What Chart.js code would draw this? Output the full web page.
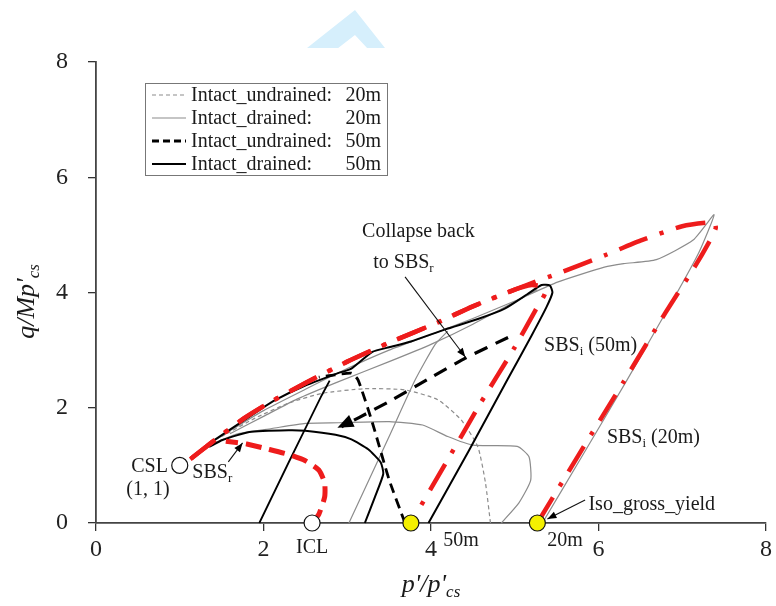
<!DOCTYPE html>
<html><head><meta charset="utf-8">
<script src="https://cdn.jsdelivr.net/npm/chart.js@4/dist/chart.umd.min.js"></script>
<style>
html,body{margin:0;padding:0;background:#fff;}
#wrap{position:relative;width:776px;height:606px;}
#mark{position:absolute;left:307px;top:10px;width:78px;height:38px;background:#d6effc;
 clip-path:polygon(61.5% 0%,100% 100%,77% 100%,61.5% 66%,40% 100%,0% 100%);}
canvas{position:absolute;left:0;top:0;}
</style></head>
<body><div id="wrap"><div id="mark"></div><canvas id="c" width="776" height="606"></canvas></div>
<script>
// ---------- data (p'/p'cs , q/Mp'cs) ----------
const xTicks = [0, 2, 4, 6, 8];
const yTicks = [0, 2, 4, 6, 8];

// upper branch shared by the two SBS_i surfaces (right to left)
const sbsTop = [[7.38,5.22],[7.0,5.15],[6.5,4.9],[6.1,4.66],[5.5,4.32],[5.27,4.2],[5.0,4.05],[4.5,3.76],[4.08,3.48],[3.5,3.13],[3.0,2.8],[2.5,2.43],[2.06,2.08],[1.77,1.82],[1.5,1.53],[1.25,1.25],[1.06,1.03]];
const sbsI20Rise = [[5.27,0],[5.8,1.27],[6.3,2.45],[6.8,3.65],[7.15,4.45],[7.33,4.9],[7.4,5.12]];
const sbsI50Rise = [[3.76,0],[4.2,1.1],[4.6,2.1],[5.0,3.05],[5.25,3.7],[5.36,3.98],[5.33,4.1],[5.2,4.13]];
const sbsR = [[2.58,0],[2.66,0.15],[2.73,0.45],[2.73,0.7],[2.66,0.92],[2.5,1.08],[2.3,1.19],[2.06,1.28],[1.8,1.37],[1.55,1.42]];

// Intact_drained 50m (black solid)
const drained50a = [[1.95,0],[2.3,1.05],[2.69,2.2],[2.79,2.47]];
const drained50b = [[3.21,0],[3.33,0.45],[3.43,0.85],[3.4,1.05],[3.25,1.28],[3.05,1.45],[2.86,1.53],[2.5,1.6],[2.3,1.61],[1.83,1.58],[1.51,1.44],[1.35,1.32]];
const drained50c = [[3.97,0],[4.45,1.25],[4.91,2.48],[5.2,3.25],[5.38,3.75],[5.45,4.0],[5.42,4.12],[5.32,4.13],[5.15,3.97],[4.88,3.72],[4.56,3.54],[4.17,3.36],[3.76,3.15],[3.5,3.05],[3.3,2.97],[3.05,2.68],[2.89,2.6],[2.46,2.36],[2.15,2.14],[1.95,1.96],[1.6,1.62],[1.35,1.38]];
// Intact_undrained 50m (black dashed)
const undrained50a = [[3.69,0],[3.5,0.75],[3.3,1.74],[3.13,2.48],[3.05,2.6],[2.85,2.57],[2.66,2.53]];
const collapse50 = [[4.92,3.22],[4.41,2.86],[3.97,2.5],[3.49,2.1],[3.14,1.83],[2.93,1.67]];
// Intact_drained 20m (grey solid)
const drained20a = [[3.02,0],[3.5,1.5],[3.81,2.48],[4.05,3.1],[4.2,3.33]];
const drained20b = [[4.84,0],[5.05,0.35],[5.19,0.74],[5.17,1.15],[5.03,1.33],[4.5,1.35],[4.2,1.5],[3.9,1.7],[3.5,1.76],[2.9,1.74],[2.5,1.73],[2.1,1.64],[1.7,1.55],[1.4,1.38]];
const drained20c = [[5.33,0],[5.8,1.15],[6.34,2.48],[6.9,3.9],[7.2,4.7],[7.38,5.35],[7.13,4.91],[6.69,4.57],[6.3,4.5],[6.07,4.44],[5.51,4.18],[5.03,3.87],[4.5,3.55],[4.0,3.27],[3.5,3.0],[3.0,2.68],[2.5,2.32],[2.0,1.95],[1.6,1.6],[1.3,1.32]];
const drained20d = [[5.27,4.05],[4.5,3.45],[4.0,3.1],[3.5,2.8],[2.89,2.45],[2.4,2.15],[2.0,1.85],[1.6,1.55]];
// Intact_undrained 20m (grey dashed)
const undrained20 = [[4.71,0],[4.65,0.7],[4.56,1.32],[4.36,1.79],[4.08,2.14],[3.69,2.31],[3.2,2.33],[2.7,2.25],[2.3,2.08],[1.9,1.82],[1.5,1.5]];

// markers
const cslPoint = [[1,1]];
const iclPoint = [[2.58,0]];
const yieldPoints = [[3.76,0],[5.27,0]];

const legendNames = ['Intact_undrained:', 'Intact_drained:', 'Intact_undrained:', 'Intact_drained:'];
const legendDepths = ['20m', '20m', '50m', '50m'];

const FONT = "'Liberation Serif','Times New Roman',serif";
const RED = '#ee1c1c';

const toXY = a => a.map(p => ({x:p[0], y:p[1]}));
const sbsI20 = sbsI20Rise.concat(sbsTop);
const sbsI50 = sbsI50Rise.concat(sbsTop.filter(p => p[0] < 5.1));

function line(data, color, width, dash, order, legend, offset) {
  return {data: toXY(data), showLine:true, borderColor:color, backgroundColor:color,
    borderWidth:width, borderDash:dash, borderDashOffset:offset || 0, pointRadius:0, pointHoverRadius:0,
    order:order, clip:false, legendIdx:legend, tension:0.18, borderCapStyle:'butt'};
}
function marker(data, fill, r) {
  return {data: toXY(data), showLine:false, pointRadius:r, pointHoverRadius:r,
    pointBackgroundColor:fill, pointBorderColor:'#111', pointBorderWidth:1.2, order:0, clip:false};
}

const GREY = '#8c8c8c';
const datasets = [
  line(undrained20, GREY, 1.2, [4,3], 6, 0),
  line(drained20a, GREY, 1.2, [], 6, 1),
  line(drained20b, GREY, 1.2, [], 6),
  line(drained20c, GREY, 1.2, [], 6),
  line(drained20d, GREY, 1.2, [], 6),
  line(undrained50a, '#000', 2.8, [10,6], 4, 2),
  line(collapse50, '#000', 3.2, [14,9], 4),
  line(drained50a, '#000', 1.8, [], 4, 3),
  line(drained50b, '#000', 2, [], 4),
  line(drained50c, '#000', 2, [], 4),
  line(sbsI20, RED, 4.5, [30,13,4,13], 2),
  line(sbsI50, RED, 4.5, [30,13,4,13], 2, undefined, 22),
  line(sbsR, RED, 5, [16,8], 2),
  marker(cslPoint, '#fff', 8),
  marker(iclPoint, '#fff', 8),
  marker(yieldPoints, '#f4f000', 8)
];
const COLLAPSE_IDX = 6;

function drawRich(ctx, parts, x, y, align, size, italic) {
  const st = italic ? 'italic ' : '';
  let w = 0;
  const seg = parts.map(p => {
    const s = p.sub ? Math.round(size*0.65) : size;
    ctx.font = st + s + 'px ' + FONT;
    const ww = ctx.measureText(p.t).width;
    w += ww;
    return {t:p.t, s:s, w:ww, sub:p.sub};
  });
  let cx = align === 'center' ? x - w/2 : (align === 'right' ? x - w : x);
  ctx.textBaseline = 'middle';
  ctx.textAlign = 'left';
  seg.forEach(s => {
    ctx.font = st + s.s + 'px ' + FONT;
    ctx.fillText(s.t, cx, s.sub ? y + size*0.28 : y);
    cx += s.w;
  });
}
function head(ctx, x0, y0, x1, y1, len, half) {
  const a = Math.atan2(y1-y0, x1-x0);
  ctx.beginPath();
  ctx.moveTo(x1, y1);
  ctx.lineTo(x1 - len*Math.cos(a) + half*Math.sin(a), y1 - len*Math.sin(a) - half*Math.cos(a));
  ctx.lineTo(x1 - len*Math.cos(a) - half*Math.sin(a), y1 - len*Math.sin(a) + half*Math.cos(a));
  ctx.closePath(); ctx.fill();
}

const notes = [
  {parts:[{t:'CSL'}], at:[0.64,0.97], align:'center'},
  {parts:[{t:'(1, 1)'}], at:[0.62,0.57], align:'center'},
  {parts:[{t:'SBS'},{t:'r',sub:true}], at:[1.15,0.87], align:'left'},
  {parts:[{t:'ICL'}], at:[2.58,-0.43], align:'center'},
  {parts:[{t:'50m'}], at:[4.36,-0.3], align:'center'},
  {parts:[{t:'20m'}], at:[5.6,-0.3], align:'center'},
  {parts:[{t:'Iso_gross_yield'}], at:[5.88,0.31], align:'left'},
  {parts:[{t:'SBS'},{t:'i',sub:true},{t:' (50m)'}], at:[5.35,3.07], align:'left'},
  {parts:[{t:'SBS'},{t:'i',sub:true},{t:' (20m)'}], at:[6.1,1.48], align:'left'},
  {parts:[{t:'Collapse back'}], at:[3.85,5.05], align:'center'},
  {parts:[{t:'to SBS'},{t:'r',sub:true}], at:[3.31,4.52], align:'left'}
];
const pointers = [
  {from:[3.69,4.27], to:[4.41,2.88]},
  {from:[1.58,1.06], to:[1.75,1.39]},
  {from:[5.84,0.40], to:[5.39,0.07]}
];

const overlay = {
  id:'overlay',
  afterDatasetsDraw(chart) {
    const ctx = chart.ctx, xs = chart.scales.x, ys = chart.scales.y;
    const P = p => [xs.getPixelForValue(p[0]), ys.getPixelForValue(p[1])];
    ctx.save();
    const pts = chart.getDatasetMeta(COLLAPSE_IDX).data;
    const a = pts[pts.length-2], b = pts[pts.length-1];
    ctx.fillStyle = '#000';
    head(ctx, a.x, a.y, b.x - 4, b.y + 1, 16, 6.5);
    ctx.strokeStyle = '#111'; ctx.lineWidth = 1.1;
    pointers.forEach(pt => {
      const f = P(pt.from), t = P(pt.to);
      ctx.beginPath(); ctx.moveTo(f[0], f[1]); ctx.lineTo(t[0], t[1]); ctx.stroke();
      head(ctx, f[0], f[1], t[0], t[1], 9, 3.5);
    });
    ctx.fillStyle = '#1a1a1a';
    notes.forEach(n => { const p = P(n.at); drawRich(ctx, n.parts, p[0], p[1], n.align, 20, false); });
    const ca = chart.chartArea;
    drawRich(ctx, [{t:"p'/p'"},{t:'cs',sub:true}], (ca.left+ca.right)/2, 585, 'center', 26, true);
    ctx.translate(27, (ca.top+ca.bottom)/2 + 9);
    ctx.rotate(-Math.PI/2);
    drawRich(ctx, [{t:"q/Mp'"},{t:'cs',sub:true}], 0, 0, 'center', 26, true);
    ctx.restore();

    ctx.save();
    ctx.strokeStyle = '#777'; ctx.lineWidth = 1;
    ctx.strokeRect(145.5, 83.5, 242, 92);
    const legendSets = chart.data.datasets.filter(d => d.legendIdx !== undefined)
      .sort((m, n) => m.legendIdx - n.legendIdx);
    legendSets.forEach((d, i) => {
      const y = 95 + i*23;
      ctx.save();
      ctx.strokeStyle = d.borderColor; ctx.lineWidth = d.borderWidth;
      ctx.setLineDash(d.legendIdx === 2 ? [7,4] : d.borderDash);
      ctx.beginPath(); ctx.moveTo(152, y); ctx.lineTo(186, y); ctx.stroke();
      ctx.restore();
      ctx.fillStyle = '#1a1a1a';
      ctx.font = '20px ' + FONT;
      ctx.textBaseline = 'middle';
      ctx.textAlign = 'left';
      ctx.fillText(legendNames[d.legendIdx], 191, y + 1);
      ctx.textAlign = 'right';
      ctx.fillText(legendDepths[d.legendIdx], 381, y + 1);
    });
    ctx.restore();
  }
};

new Chart(document.getElementById('c'), {
  type:'scatter',
  data:{datasets:datasets},
  options:{
    responsive:false, animation:false,
    layout:{padding:{top:62, right:7, left:0, bottom:0}},
    plugins:{legend:{display:false}, tooltip:{enabled:false}},
    scales:{
      x:{type:'linear', min:0, max:8,
        afterBuildTicks: s => { s.ticks = xTicks.map(v => ({value:v})); },
        afterFit: s => { s.height = 83; },
        ticks:{font:{family:FONT, size:24}, color:'#222', padding:4},
        grid:{drawOnChartArea:false, drawTicks:true, tickLength:8, color:'#333', lineWidth:1.3},
        border:{color:'#444', width:1.8}},
      y:{type:'linear', min:0, max:8,
        afterBuildTicks: s => { s.ticks = yTicks.map(v => ({value:v})); },
        afterFit: s => { s.width = 96; },
        ticks:{font:{family:FONT, size:24}, color:'#222', padding:20},
        grid:{drawOnChartArea:false, drawTicks:true, tickLength:8, color:'#333', lineWidth:1.3},
        border:{color:'#444', width:1.8}}
    }
  },
  plugins:[overlay]
});
</script></body></html>
